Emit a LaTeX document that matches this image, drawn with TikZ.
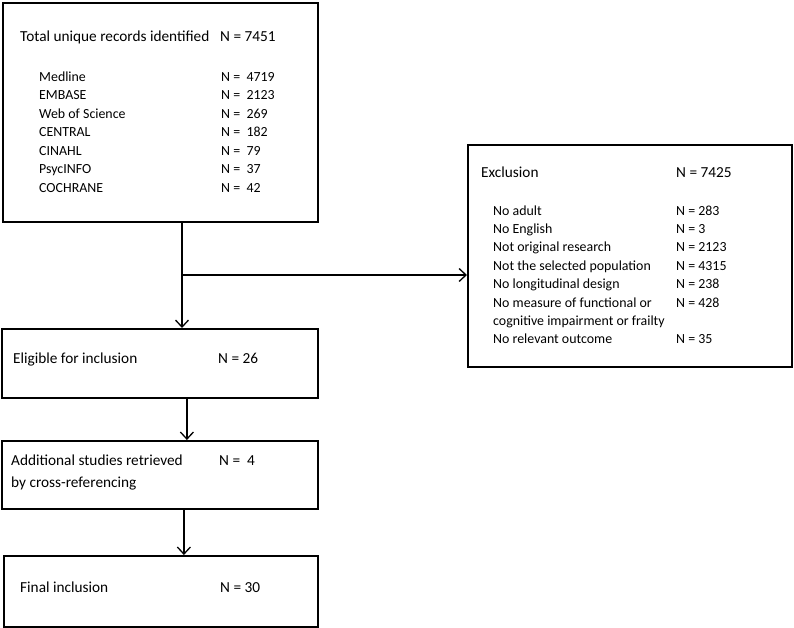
\documentclass[tikz,border=0pt]{standalone}
\usepackage{fontspec}
\setmainfont{Carlito}
\usetikzlibrary{arrows.meta, positioning, calc}

\begin{document}
\begin{tikzpicture}[
    x=1pt, y=-1pt,
    >={Straight Barb[length=7pt, width=13pt, line width=1.3pt]},
    every node/.style={inner sep=0pt},
    flowbox/.style={
        draw=black, line width=1.8pt, fill=white,
        minimum width=#1, anchor=north west
    },
    headtext/.style={anchor=base west, font=\fontsize{15.3}{18}\selectfont},
    itemtext/.style={anchor=base west, font=\fontsize{13.9}{16}\selectfont},
    link/.style={line width=1.3pt, black},
    arrstyle/.style={->, line width=1.3pt, black},
]
\useasboundingbox (0,0) rectangle (794,627);

% === Records identified ===
\node[flowbox=315pt, minimum height=219pt] (total) at (2,2) {};
\node[headtext] (totallbl) at (20,41) {Total unique records identified};
\node[headtext] (totaln) at (220,41) {N = 7451};
\foreach \src/\num [count=\i from 0] in {Medline/4719, EMBASE/2123,
    Web of Science/269, CENTRAL/182, CINAHL/79, PsycINFO/37, COCHRANE/42} {
  \node[itemtext] (src\i) at (39,81+18.5*\i) {\src};
  \node[itemtext] (srcn\i) at (221,81+18.5*\i) {N =~~\num};
}

% === Exclusion ===
\node[flowbox=324pt, minimum height=222pt] (excl) at (467,144) {};
\node[headtext] (excllbl) at (481,177) {Exclusion};
\node[headtext] (excln) at (676,177) {N = 7425};
\foreach \reason/\num/\row in {No adult/283/0, No English/3/1,
    Not original research/2123/2, Not the selected population/4315/3,
    No longitudinal design/238/4, No measure of functional or/428/5,
    No relevant outcome/35/7} {
  \node[itemtext] (why\row) at (493,215+18.4*\row) {\reason};
  \node[itemtext] (whyn\row) at (676,215+18.4*\row) {N = \num};
}
\node[itemtext] (why6) at (493,215+18.4*6) {cognitive impairment or frailty};

% === Eligible ===
\node[flowbox=316pt, minimum height=69pt] (elig) at (1,328) {};
\node[headtext] (eliglbl) at (13,363) {Eligible for inclusion};
\node[headtext] (elign) at (218,363) {N = 26};

% === Additional studies ===
\node[flowbox=316pt, minimum height=68pt] (addit) at (1,440) {};
\node[headtext] (additlbl) at (11,465) {Additional studies retrieved};
\node[headtext] (additlbl2) at (11,487) {by cross-referencing};
\node[headtext] (additn) at (219,465) {N =~~4};

% === Final ===
\node[flowbox=314pt, minimum height=71pt] (final) at (3,555) {};
\node[headtext] (finallbl) at (20,592) {Final inclusion};
\node[headtext] (finaln) at (220,592) {N = 30};

% === Arrows ===
\coordinate (split) at (182,275);
\draw[link] (total.south -| split) -- (split);
\draw[arrstyle] (split) -- (split |- elig.north);
\draw[arrstyle] (split) -- (split -| excl.west);
\draw[arrstyle] ([xshift=27pt]elig.south) -- ([xshift=27pt]elig.south |- addit.north);
\draw[arrstyle] ([xshift=24pt]addit.south) -- ([xshift=24pt]addit.south |- final.north);

\end{tikzpicture}
\end{document}
